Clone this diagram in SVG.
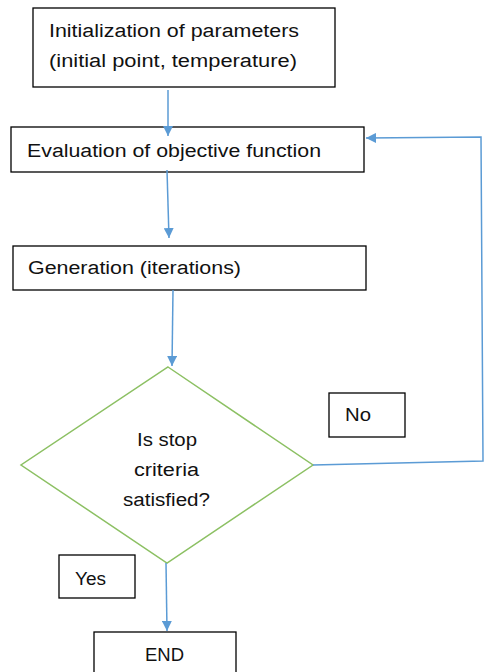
<svg xmlns="http://www.w3.org/2000/svg" width="485" height="672" viewBox="0 0 485 672">
<style>
.box{fill:#fff;stroke:#000;stroke-width:1.3}
.dia{fill:#fff;stroke:#8cc063;stroke-width:1.5}
.t{font-family:"Liberation Sans",Arial,sans-serif;font-size:18px;fill:#111}
.c{stroke:#5b9bd5;stroke-width:1.5;fill:none}
</style>
<defs>
<marker id="ah" viewBox="0 0 10 10" refX="10" refY="5" markerWidth="10" markerHeight="10" markerUnits="userSpaceOnUse" orient="auto">
<path d="M0,0 L10,5 L0,10 z" fill="#5b9bd5"/>
</marker>
</defs>
<rect width="485" height="672" fill="#fff"/>
<g id="n-init">
<rect class="box" x="33" y="8" width="302" height="79"/>
<text class="t" x="49" y="37" textLength="250" lengthAdjust="spacingAndGlyphs">Initialization of parameters</text>
<text class="t" x="49" y="67" textLength="248" lengthAdjust="spacingAndGlyphs">(initial point, temperature)</text>
</g>
<g id="n-eval">
<rect class="box" x="11" y="127" width="353" height="45"/>
<text class="t" x="27" y="157" textLength="294" lengthAdjust="spacingAndGlyphs">Evaluation of objective function</text>
</g>
<g id="n-gen">
<rect class="box" x="13" y="246" width="353" height="44"/>
<text class="t" x="28" y="274" textLength="213" lengthAdjust="spacingAndGlyphs">Generation (iterations)</text>
</g>
<g id="n-dec">
<polygon class="dia" points="168,367 313,465 167,563 21,465"/>
<text class="t" x="137" y="446" textLength="60" lengthAdjust="spacingAndGlyphs">Is stop</text>
<text class="t" x="134" y="476" textLength="65" lengthAdjust="spacingAndGlyphs">criteria</text>
<text class="t" x="123" y="506" textLength="87" lengthAdjust="spacingAndGlyphs">satisfied?</text>
</g>
<g id="n-no">
<rect class="box" x="329" y="393" width="76" height="44"/>
<text class="t" x="345" y="421" textLength="26" lengthAdjust="spacingAndGlyphs">No</text>
</g>
<g id="n-yes">
<rect class="box" x="59" y="555" width="76" height="43"/>
<text class="t" x="75" y="585" textLength="31" lengthAdjust="spacingAndGlyphs">Yes</text>
</g>
<g id="n-end">
<rect class="box" x="94" y="632" width="142" height="45"/>
<text class="t" x="145" y="661" textLength="39" lengthAdjust="spacingAndGlyphs">END</text>
</g>
<g id="connectors">
<path class="c" d="M168,90 L168,136" marker-end="url(#ah)"/>
<path class="c" d="M167,170 L169,238" marker-end="url(#ah)"/>
<path class="c" d="M173,290 L172,366" marker-end="url(#ah)"/>
<path class="c" d="M166,563 L167,631" marker-end="url(#ah)"/>
<path class="c" d="M313,465 L483,461 L481,137 L366,138" marker-end="url(#ah)"/>
</g>
</svg>
